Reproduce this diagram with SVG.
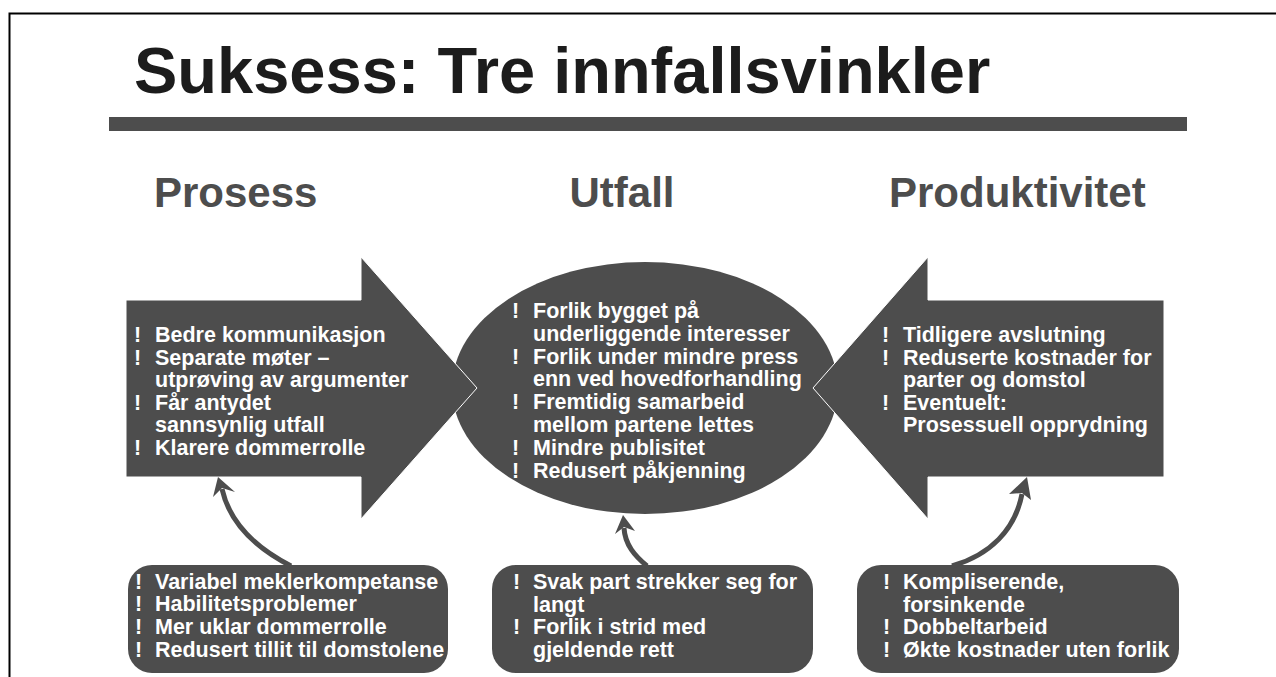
<svg xmlns="http://www.w3.org/2000/svg" width="1276" height="677" viewBox="0 0 1276 677">
<style>
.t{font-family:"Liberation Sans",Arial,Helvetica,sans-serif;font-weight:bold}
.w{fill:#ffffff;font-size:21.5px}
.h{fill:#4d4d4d;font-size:42px}
.shape{fill:#4d4d4d}
.arr{fill:#4d4d4d;stroke:#ffffff;stroke-width:1}
.conn{fill:none;stroke:#4d4d4d;stroke-width:5}
.head{fill:#4d4d4d}
</style>
<rect width="1276" height="677" fill="#ffffff"/>
<path d="M9.5 677 V13.5 H1276" fill="none" stroke="#000" stroke-width="2"/>
<g id="title">
<text class="t" x="134" y="93" font-size="65" fill="#1c1c1c">Suksess: Tre innfallsvinkler</text>
<rect x="109" y="117" width="1078" height="14" fill="#4d4d4d"/>
</g>
<g id="headings">
<text class="t h" x="154" y="207">Prosess</text>
<text class="t h" x="622" y="207" text-anchor="middle">Utfall</text>
<text class="t h" x="889" y="207">Produktivitet</text>
</g>
<g id="utfall">
<ellipse class="shape" cx="645" cy="388" rx="193" ry="126"/>
<text class="t w"><tspan x="512" y="318">!</tspan><tspan x="533" y="318">Forlik bygget på</tspan><tspan x="533" y="341">underliggende interesser</tspan><tspan x="512" y="363.5">!</tspan><tspan x="533" y="363.5">Forlik under mindre press</tspan><tspan x="533" y="386">enn ved hovedforhandling</tspan><tspan x="512" y="409">!</tspan><tspan x="533" y="409">Fremtidig samarbeid</tspan><tspan x="533" y="432">mellom partene lettes</tspan><tspan x="512" y="455">!</tspan><tspan x="533" y="455">Mindre publisitet</tspan><tspan x="512" y="477.5">!</tspan><tspan x="533" y="477.5">Redusert påkjenning</tspan></text>
</g>
<g id="prosess">
<polygon class="arr" points="126,300 361,300 361,257 477,388 361,519 361,477 126,477"/>
<text class="t w"><tspan x="134" y="342">!</tspan><tspan x="155" y="342">Bedre kommunikasjon</tspan><tspan x="134" y="364.6">!</tspan><tspan x="155" y="364.6">Separate møter –</tspan><tspan x="155" y="387.2">utprøving av argumenter</tspan><tspan x="134" y="409.8">!</tspan><tspan x="155" y="409.8">Får antydet</tspan><tspan x="155" y="432.4">sannsynlig utfall</tspan><tspan x="134" y="455">!</tspan><tspan x="155" y="455">Klarere dommerrolle</tspan></text>
</g>
<g id="produktivitet">
<polygon class="arr" points="1164,300 928,300 928,257 813,388 928,519 928,477 1164,477"/>
<text class="t w"><tspan x="882" y="342">!</tspan><tspan x="903" y="342">Tidligere avslutning</tspan><tspan x="882" y="364.6">!</tspan><tspan x="903" y="364.6">Reduserte kostnader for</tspan><tspan x="903" y="387.2">parter og domstol</tspan><tspan x="882" y="409.8">!</tspan><tspan x="903" y="409.8">Eventuelt:</tspan><tspan x="903" y="432.4">Prosessuell opprydning</tspan></text>
</g>
<g id="risiko-prosess">
<rect class="shape" x="128" y="565" width="320" height="108" rx="24"/>
<text class="t w"><tspan x="135" y="588.5">!</tspan><tspan x="155" y="588.5">Variabel meklerkompetanse</tspan><tspan x="135" y="611.3">!</tspan><tspan x="155" y="611.3">Habilitetsproblemer</tspan><tspan x="135" y="634">!</tspan><tspan x="155" y="634">Mer uklar dommerrolle</tspan><tspan x="135" y="656.8">!</tspan><tspan x="155" y="656.8">Redusert tillit til domstolene</tspan></text>
</g>
<g id="risiko-utfall">
<rect class="shape" x="492" y="565" width="321" height="108" rx="24"/>
<text class="t w"><tspan x="513" y="589">!</tspan><tspan x="533" y="589">Svak part strekker seg for</tspan><tspan x="533" y="611.5">langt</tspan><tspan x="513" y="634">!</tspan><tspan x="533" y="634">Forlik i strid med</tspan><tspan x="533" y="656.5">gjeldende rett</tspan></text>
</g>
<g id="risiko-produktivitet">
<rect class="shape" x="857" y="565" width="322" height="108" rx="24"/>
<text class="t w"><tspan x="883" y="589">!</tspan><tspan x="903" y="589">Kompliserende,</tspan><tspan x="903" y="611.5">forsinkende</tspan><tspan x="883" y="634">!</tspan><tspan x="903" y="634">Dobbeltarbeid</tspan><tspan x="883" y="656.5">!</tspan><tspan x="903" y="656.5">Økte kostnader uten forlik</tspan></text>
</g>
<g id="connectors">
<path class="conn" d="M291 566 C252 546 229 520 222 489"/>
<polygon class="head" points="218,477 235,492 222,488 213,497"/>
<path class="conn" d="M647 566 C635 556 625 545 624 528"/>
<polygon class="head" points="623,515 635,531 624,527 615,534"/>
<path class="conn" d="M952 566 C990 555 1015 530 1022 494"/>
<polygon class="head" points="1027,477 1031,500 1022,493 1009,494"/>
</g>
</svg>
